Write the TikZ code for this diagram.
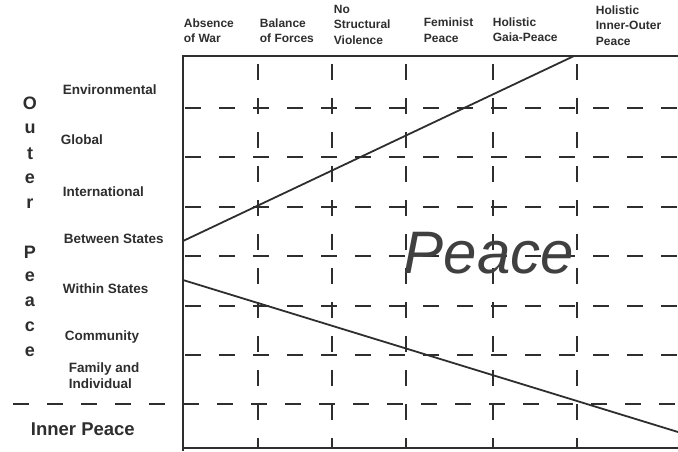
\documentclass[tikz,border=0pt]{standalone}
\usepackage{fontspec}
\setmainfont{Liberation Sans}
\definecolor{ink}{gray}{0.18}
\begin{document}
\begin{tikzpicture}[x=1pt,y=-1pt,line width=1.8pt,color=ink,
   grid/.style={line width=1.6pt,dash pattern=on 16pt off 18pt},
   head/.style={anchor=west,inner sep=0pt,align=left,font=\fontsize{12}{15.5}\selectfont\bfseries},
   lvl/.style={anchor=west,inner sep=0pt,align=left,font=\fontsize{13.5}{16}\selectfont\bfseries}]
   \useasboundingbox (0,0) rectangle (678,451);
   % frame
   \coordinate (tl) at (183,56);
   \coordinate (tr) at (678,56);
   \coordinate (bl) at (183,451);
   \coordinate (br) at (678,448);
   \draw[line width=2.2pt] (tr) -- (tl) -- (bl);
   \draw (183,448) -- (br);
   % dashed grid
   \foreach \x in {258,332,406,493,577}
      \draw[grid,dash phase=26pt] (\x,56) -- (\x,448);
   \foreach \y in {108,157,207,256,306,355}
      \draw[grid,dash phase=32pt] (183,\y) -- (678,\y);
   \draw[grid,dash phase=33pt] (12,404) -- (678,404);
   % the two boundaries of peace
   \coordinate (up0) at (183,241);
   \coordinate (up1) at (574,56);
   \coordinate (lo0) at (183,280);
   \coordinate (lo1) at (678,432);
   \draw (up0) -- (up1);
   \draw (lo0) -- (lo1);
   \node[inner sep=0pt,anchor=base,text=black!75,font=\fontsize{60}{60}\selectfont\itshape] (peace) at (489,273) {Peace};
   % column heads
   \node[head] (war) at (183,30.5) {Absence\\of War};
   \node[head] (forces) at (259,30.5) {Balance\\of Forces};
   \node[head] (violence) at (333,24.5) {No\\Structural\\Violence};
   \node[head] (feminist) at (423,30) {Feminist\\Peace};
   \node[head] (gaia) at (492,29.5) {Holistic\\Gaia-Peace};
   \node[head] (innerouter) at (595,25.5) {Holistic\\Inner-Outer\\Peace};
   % row levels
   \node[lvl] (env) at (62,90) {Environmental};
   \node[lvl] (global) at (60,140) {Global};
   \node[lvl] (intl) at (62,192) {International};
   \node[lvl] (between) at (63,239) {Between States};
   \node[lvl] (within) at (62,289) {Within States};
   \node[lvl] (comm) at (64,337) {Community};
   \node[lvl] (family) at (68,376) {Family and\\Individual};
   % outer / inner
   \foreach \c/\y in {O/103,u/129,t/154,e/179,r/204,P/252,e/277,a/302,c/327,e/352}
      \node[inner sep=0pt,font=\fontsize{18}{18}\selectfont\bfseries] (op\y) at (30,\y) {\c};
   \node[inner sep=0pt,anchor=west,font=\fontsize{18.5}{18.5}\selectfont\bfseries] (inner) at (30,429) {Inner Peace};
\end{tikzpicture}
\end{document}
